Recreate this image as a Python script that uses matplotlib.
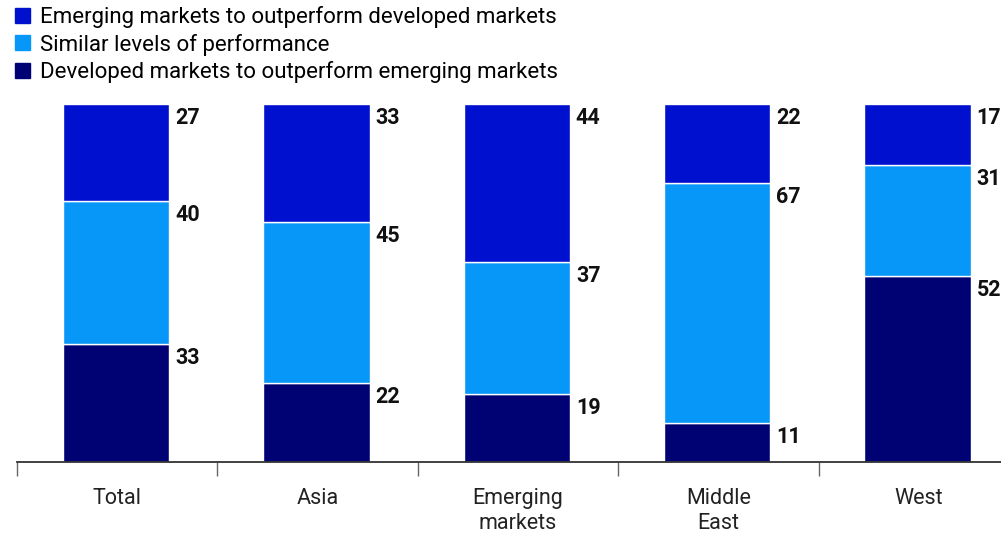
import numpy as np
import matplotlib
matplotlib.use("Agg")
from matplotlib import pyplot as plt
from matplotlib.patches import Patch

# data
categories = ["Total", "Asia", "Emerging\nmarkets", "Middle\nEast", "West"]
emerging_outperform = [27, 33, 44, 22, 17]
similar = [40, 45, 37, 67, 31]
developed_outperform = [33, 22, 19, 11, 52]
series_names = ["Emerging markets to outperform developed markets",
                "Similar levels of performance",
                "Developed markets to outperform emerging markets"]

c_top = "#0010cf"
c_mid = "#0797f8"
c_dark = "#000274"

plt.rcParams['font.family'] = ['Roboto', 'DejaVu Sans']

fig = plt.figure(figsize=(10.01, 5.35), dpi=100)
ax = fig.add_axes([17/1001, 73/535, 1002/1001, 358/535])

x = np.arange(len(categories))
w = 0.53
off = -0.006
dev = np.array(developed_outperform)
sim = np.array(similar)
emg = np.array(emerging_outperform)

ax.bar(x + off, dev, w, color=c_dark, edgecolor="white", linewidth=1)
ax.bar(x + off, sim, w, bottom=dev, color=c_mid, edgecolor="white", linewidth=1)
ax.bar(x + off, emg, w, bottom=dev + sim, color=c_top, edgecolor="white", linewidth=1)

for i in range(len(x)):
    tops = [dev[i], dev[i] + sim[i], dev[i] + sim[i] + emg[i]]
    vals = [dev[i], sim[i], emg[i]]
    for t, v in zip(tops, vals):
        ax.annotate(str(v), (x[i] + off + w/2, t), xytext=(6, -3),
                    textcoords="offset pixels", ha="left", va="top",
                    fontsize=15.5, fontweight="bold", color="#111111")

ax.set_xlim(-0.5, len(x) - 0.5)
ax.set_ylim(0, 100)
ax.set_yticks([])
for s in ["left", "right", "top"]:
    ax.spines[s].set_visible(False)
ax.spines["bottom"].set_color("#333333")
ax.spines["bottom"].set_linewidth(1.3)

ax.set_xticks(x)
ax.set_xticklabels(categories, fontsize=15.5, color="#222222", va="top", linespacing=1.3)
ax.tick_params(axis="x", which="major", length=0, pad=18.5)
ax.set_xticks(np.arange(-0.5, len(x), 1), minor=True)
ax.tick_params(axis="x", which="minor", length=10, width=1, color="#666666")

handles = [Patch(color=c_top), Patch(color=c_mid), Patch(color=c_dark)]
fig.legend(handles, series_names, loc="upper left", bbox_to_anchor=(15/1001, 1 - 6/535),
           frameon=False, fontsize=16, handlelength=0.66, handleheight=0.66,
           handletextpad=0.45, labelspacing=0.25, borderaxespad=0, borderpad=0)

fig.savefig("out.png", dpi=100)
